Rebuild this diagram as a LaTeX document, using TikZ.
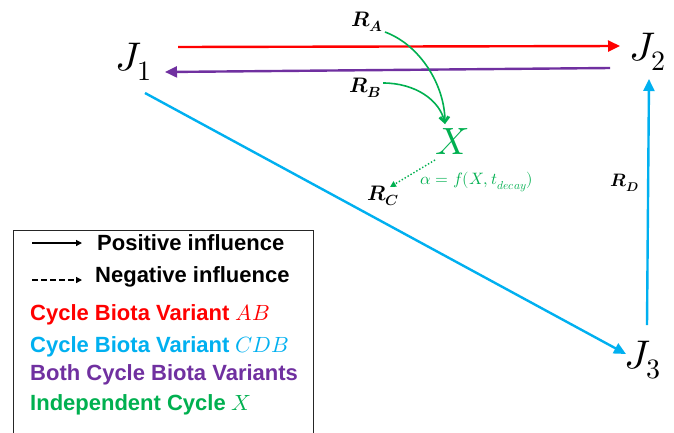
\documentclass[tikz,border=0pt]{standalone}
\usepackage{fontspec}
\usepackage{unicode-math}
\setmainfont{Liberation Sans}
\setmathfont{Latin Modern Math}
\usetikzlibrary{arrows.meta}
\definecolor{cred}{RGB}{255,0,0}
\definecolor{cpurple}{RGB}{112,48,160}
\definecolor{ccyan}{RGB}{0,176,240}
\definecolor{cgreen}{RGB}{0,176,80}
\begin{document}
\begin{tikzpicture}[x=1pt,y=-1pt,
  jnode/.style={inner sep=0pt, font=\fontsize{40}{44}\selectfont},
  rnode/.style={inner sep=0pt, font=\fontsize{21}{24}\selectfont},
  main/.style={line width=2.4pt, -{Triangle[length=12pt,width=11pt]}},
  gline/.style={cgreen, line width=1.6pt, -{Straight Barb[length=6pt,width=9pt]}},
  legtext/.style={anchor=west, inner sep=0pt, font=\fontsize{22}{24}\selectfont\bfseries},
  legarrow/.style={line width=1.3pt, -{Triangle[length=6pt,width=6pt]}},
]
\useasboundingbox (0,0) rectangle (674,432);
\fill[white] (0,0) rectangle (674,432);

% main nodes
\node[jnode] (J1) at (134,62) {$J_1$};
\node[jnode] (J2) at (648,52) {$J_2$};
\node[jnode] (J3) at (643,360) {$J_3$};
\node[inner sep=0pt, font=\fontsize{38}{40}\selectfont, text=cgreen] (X) at (452,142) {$X$};

\node[rnode] (RA) at (367,22) {$\symbfit{R}_{\symbfit{A}}$};
\node[rnode] (RB) at (365,88) {$\symbfit{R}_{\symbfit{B}}$};
\node[rnode] (RC) at (383,196) {$\symbfit{R}_{\symbfit{C}}$};
\node[inner sep=0pt, font=\fontsize{18}{21}\selectfont] (RD) at (625,183) {$\symbfit{R}_{\symbfit{D}}$};
\node[inner sep=0pt, font=\fontsize{16.5}{19}\selectfont, text=cgreen] (alpha) at (477,182) {$\alpha=f(X,t_{decay})$};

% connector end points
\coordinate (rs) at (178,47);
\coordinate (re) at (620,46);
\coordinate (ps) at (610,68);
\coordinate (pe) at (165,72);
\coordinate (cs) at (145,93);
\coordinate (ce) at (626,354);
\coordinate (ds) at (647,325);
\coordinate (de) at (649,79);
\coordinate (xtop) at (445,124);
\coordinate (xbot) at (435,160);
\coordinate (rctip) at (390,187);

\draw[main, cred] (rs) -- (re);
\draw[main, cpurple] (ps) -- (pe);
\draw[main, ccyan] (cs) -- (ce);
\draw[main, ccyan] (ds) -- (de);

\draw[gline] ([xshift=2pt]RA.south east) .. controls (420,45) and (445,85) .. (xtop);
\draw[gline] ([xshift=2pt,yshift=5pt]RB.east) .. controls (415,83) and (440,100) .. (xtop);
\draw[cgreen, line width=1.4pt, dotted, -{Triangle[length=6pt,width=6pt]}] (xbot) -- (rctip);

% legend
\draw[line width=1pt, black!85] (13,433) -- (13,230) -- (313,230) -- (313,433);
\coordinate (l1s) at (32,243);
\coordinate (l1e) at (82,243);
\coordinate (l2s) at (32,280);
\coordinate (l2e) at (82,280);
\draw[legarrow] (l1s) -- (l1e);
\draw[legarrow, dash pattern=on 6pt off 3pt] (l2s) -- (l2e);
\node[legtext] (t1) at (97,243) {Positive influence};
\node[legtext] (t2) at (95,277) {Negative influence};
\node[legtext, text=cred] (t3) at (30,315) {Cycle Biota Variant $AB$};
\node[legtext, text=ccyan] (t4) at (30,347) {Cycle Biota Variant $CDB$};
\node[legtext, text=cpurple] (t5) at (30,375) {Both Cycle Biota Variants};
\node[legtext, text=cgreen] (t6) at (30,405) {Independent Cycle $X$};
\end{tikzpicture}
\end{document}
